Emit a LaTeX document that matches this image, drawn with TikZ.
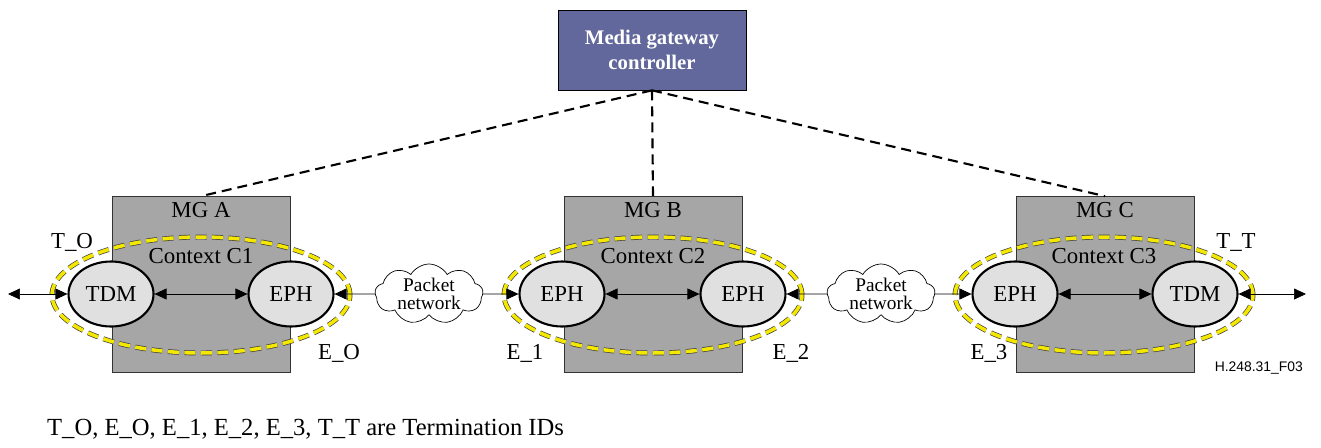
\documentclass[tikz,border=0pt]{standalone}
\usepackage{fontspec}
\setmainfont{Liberation Serif}
\setsansfont{Liberation Sans}
\usepackage{xcolor}
\usetikzlibrary{arrows.meta, positioning, shapes.geometric, shapes.symbols}

\definecolor{mgcblue}{RGB}{98,104,155}
\definecolor{boxgray}{RGB}{166,166,166}
\definecolor{termgray}{RGB}{224,224,224}
\definecolor{ctxyellow}{RGB}{245,232,0}

\begin{document}
\begin{tikzpicture}[x=0.02cm, y=-0.02cm,
			mgc/.style={draw, fill=mgcblue, rectangle, minimum width=3.76cm, minimum height=1.6cm, text=white, align=center, font=\bfseries\fontsize{11.8}{13.8}\selectfont},
			gateway/.style={draw=black!80, fill=boxgray, rectangle, minimum width=3.56cm, minimum height=3.52cm},
			term/.style={draw, very thick, fill=termgray, ellipse, minimum width=1.7cm, minimum height=1.3cm, inner sep=0pt, font=\fontsize{13}{15}\selectfont},
			context/.style={draw=black!75, double=ctxyellow, double distance=2pt, dash pattern=on 0.22cm off 0.11cm, ellipse, minimum width=5.96cm, minimum height=2.32cm},
			packet/.style={draw, cloud, cloud puffs=9, cloud puff arc=120, aspect=1.9, minimum width=2.16cm, minimum height=1.2cm, inner sep=-1.5pt, align=center, font=\fontsize{11}{10.5}\selectfont},
			lbl/.style={font=\fontsize{13}{15}\selectfont},
			ctrl/.style={very thick, dash pattern=on 0.2cm off 0.12cm},
			link/.style={-{Triangle[length=0.24cm,width=0.22cm]}},
			both/.style={{Triangle[length=0.24cm,width=0.22cm]}-{Triangle[length=0.24cm,width=0.22cm]}}
			]
			\useasboundingbox (0,0) rectangle (1321,447);
			
			% controller and gateways
			\node [mgc](mgc) at (652,50) {Media gateway\\controller};
			\node [gateway](mga) at (201,284.5) {};
			\node [gateway](mgb) at (653,284.5) {};
			\node [gateway](mgc3) at (1105,284.5) {};
			\node [lbl](mgalbl) [below=0pt of mga.north] {MG A};
			\node [lbl](mgblbl) [below=0pt of mgb.north] {MG B};
			\node [lbl](mgclbl) [below=0pt of mgc3.north] {MG C};
			
			% contexts
			\node [context](ctxa) at (201,295) {};
			\node [context](ctxb) at (653,295) {};
			\node [context](ctxc) at (1104,295) {};
			\node [lbl](ctxalbl) at (201,256) {Context C1};
			\node [lbl](ctxblbl) at (653,256) {Context C2};
			\node [lbl](ctxclbl) at (1104,256) {Context C3};
			
			% terminations
			\node [term](tdma) at (111,294) {TDM};
			\node [term](epha) at (291,294) {EPH};
			\node [term](ephb1) at (562,294) {EPH};
			\node [term](ephb2) at (743,294) {EPH};
			\node [term](ephc) at (1015,294) {EPH};
			\node [term](tdmc) at (1195,294) {TDM};
			
			% packet networks
			\node [packet](net1) at (429,294) {Packet\\network};
			\node [packet](net2) at (881,294) {Packet\\network};
			
			\coordinate (lend) at (8,294);
			\coordinate (rend) at (1306,294);
			
			% termination IDs
			\node [lbl](to) at (72,242) {T\_O};
			\node [lbl](eo) at (339,353) {E\_O};
			\node [lbl](e1) at (525,353) {E\_1};
			\node [lbl](e2) at (791,353) {E\_2};
			\node [lbl](e3) at (989,353) {E\_3};
			\node [lbl](tt) at (1236,242) {T\_T};
			\node [font=\sffamily\fontsize{7.9}{9}\selectfont, anchor=east](fig) at (1309,368) {H.248.31\_F03};
			\node [font=\fontsize{14}{16}\selectfont, anchor=west](note) at (41,429) {T\_O, E\_O, E\_1, E\_2, E\_3, T\_T are Termination IDs};
			
			% control links
			\draw[ctrl] (mgc.south) -- (mga.north);
			\draw[ctrl] (mgc.south) -- (mgb.north);
			\draw[ctrl] (mgc.south) -- (mgc3.north);
			
			% media paths
			\draw[both] (lend) -- (tdma);
			\draw[both] (tdma) -- (epha);
			\draw[link] (net1) -- (epha);
			\draw[link] (net1) -- (ephb1);
			\draw[both] (ephb1) -- (ephb2);
			\draw[link] (net2) -- (ephb2);
			\draw[link] (net2) -- (ephc);
			\draw[both] (ephc) -- (tdmc);
			\draw[both] (tdmc) -- (rend);
		\end{tikzpicture}
\end{document}
